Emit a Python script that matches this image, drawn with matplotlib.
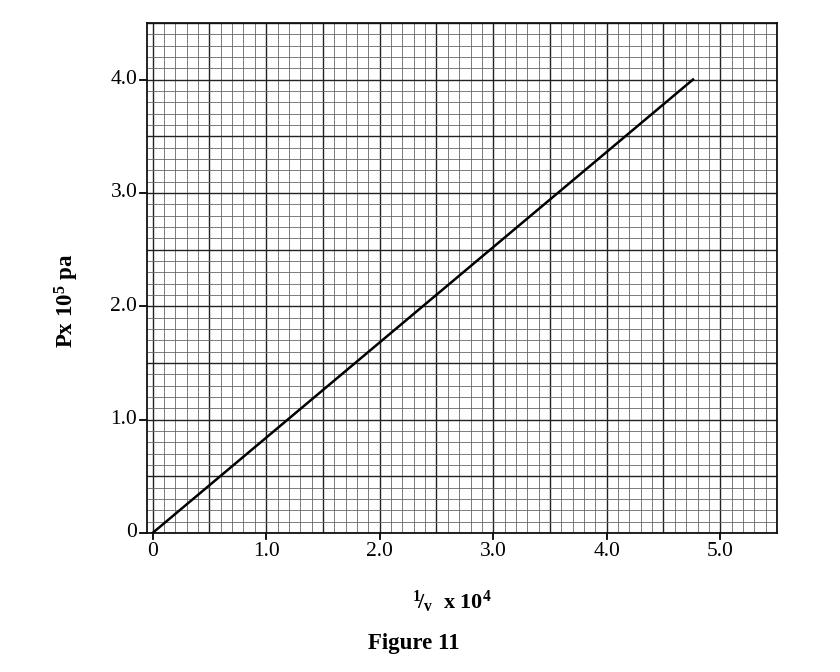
import matplotlib
matplotlib.use("Agg")
import matplotlib.pyplot as plt
import numpy as np

# data
line_x = [0.0, 4.76]
line_y = [0.0, 4.0]
xticks = [0, 1.0, 2.0, 3.0, 4.0, 5.0]
xtick_labels = ["0", "1.0", "2.0", "3.0", "4.0", "5.0"]
yticks = [0, 1.0, 2.0, 3.0, 4.0]
ytick_labels = ["0", "1.0", "2.0", "3.0", "4.0"]

plt.rcParams['font.family'] = ['Liberation Serif', 'DejaVu Serif']
plt.rcParams['mathtext.fontset'] = 'custom'
plt.rcParams['mathtext.rm'] = 'Liberation Serif:bold'
plt.rcParams['mathtext.it'] = 'Liberation Serif:bold'
plt.rcParams['mathtext.bf'] = 'Liberation Serif:bold'

fig = plt.figure(figsize=(8.4, 6.72), dpi=100)
ax = fig.add_axes([0.175, 0.207, 0.75, 0.759])
ax.set_xlim(-0.05, 5.5)
ax.set_ylim(0, 4.5)

ax.set_xticks(np.arange(0, 5.51, 0.5), minor=False)
ax.set_yticks(np.arange(0, 4.51, 0.5), minor=False)
ax.set_xticks(np.arange(0, 5.51, 0.1), minor=True)
ax.set_yticks(np.arange(0, 4.51, 0.1), minor=True)
ax.grid(which='major', color='#222222', linewidth=1.0)
ax.grid(which='minor', color='#666666', linewidth=0.6)
ax.tick_params(which='both', length=0)
ax.set_xticklabels(["" for _ in np.arange(0, 5.51, 0.5)])
ax.set_yticklabels(["" for _ in np.arange(0, 4.51, 0.5)])

for s in ax.spines.values():
    s.set_linewidth(1.3)
    s.set_color('#111111')

ax.plot(line_x, line_y, color='black', linewidth=1.8, zorder=5)

for xv, lab in zip(xticks, xtick_labels):
    ax.plot([xv, xv], [0, -0.05], color='black', lw=1.3, clip_on=False)
    ax.text(xv, -0.08, lab, ha='center', va='top', fontsize=15.5)
for yv, lab in zip(yticks, ytick_labels):
    ax.plot([-0.05, -0.11], [yv, yv], color='black', lw=1.3, clip_on=False)
    ax.text(-0.135, yv, lab, ha='right', va='center', fontsize=15.5)

fig.text(0.08, 0.553, r"Px 10$^5$ pa", rotation=90, ha='center', va='center',
         fontsize=16.5, fontweight='bold')
fig.text(0.538, 0.104, r"$^{1}\!/_{v}$  x 10$^4$", ha='center', va='center',
         fontsize=16, fontweight='bold')
fig.text(0.492, 0.043, "Figure 11", ha='center', va='center',
         fontsize=16.5, fontweight='bold')

fig.savefig("out.png", dpi=100, facecolor='white')
